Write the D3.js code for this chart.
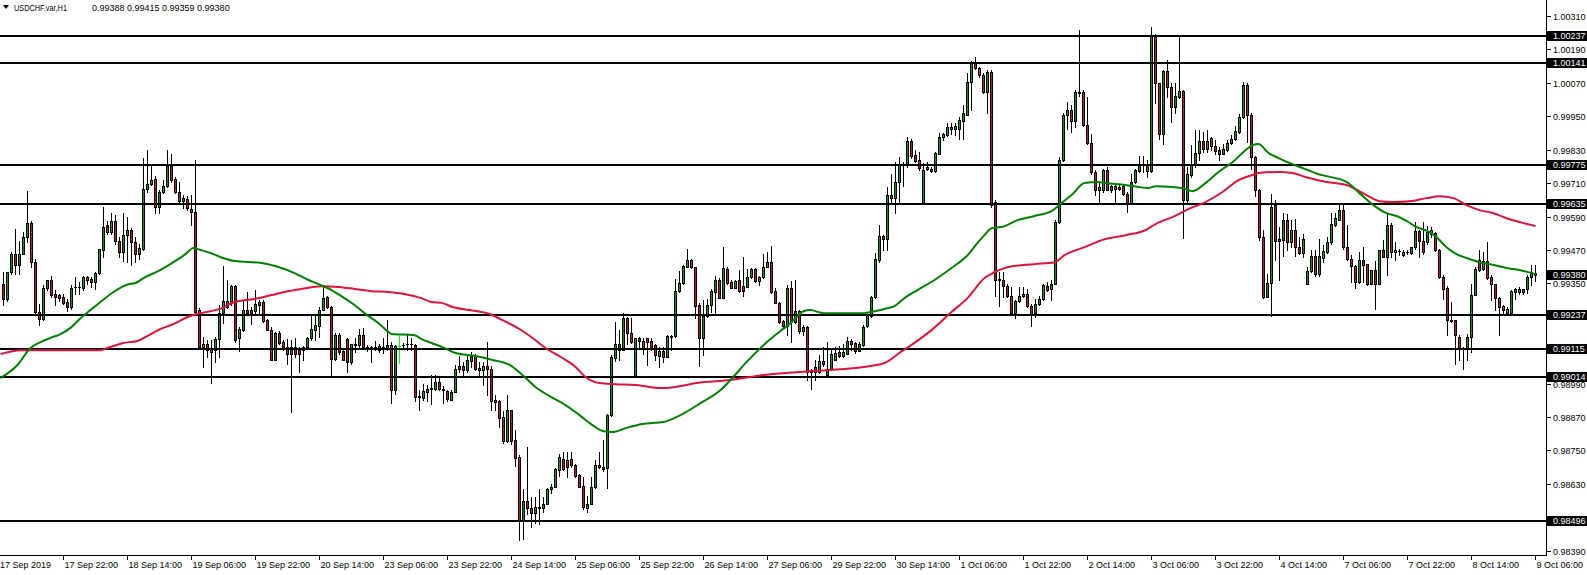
<!DOCTYPE html>
<html><head><meta charset="utf-8">
<script src="https://cdn.jsdelivr.net/npm/d3@7"></script>
<style>
html,body{margin:0;padding:0;background:#fff;overflow:hidden}
svg{display:block}
text{font-family:'Liberation Sans',Arial,sans-serif;font-size:9px}
</style>
</head><body>
<svg id="chart" width="1587" height="575"></svg>
<script>
const symbol = "USDCHF.var,H1";
// hourly candles [open, high, low, close], bar 0 = 17 Sep 07:00
const ohlc = [
[0.99349,0.99391,0.99271,0.99295],[0.99295,0.99391,0.99287,0.99391],[0.99391,0.99463,0.99385,0.99455],[0.99455,0.99545,0.99385,0.99415],
[0.99415,0.99501,0.99385,0.99455],[0.99455,0.99535,0.99455,0.99515],[0.99515,0.99681,0.99499,0.99565],[0.99565,0.99575,0.99409,0.99425],
[0.99425,0.99439,0.99235,0.99247],[0.99247,0.99277,0.99201,0.99223],[0.99223,0.99343,0.99219,0.99335],[0.99335,0.99363,0.99327,0.99361],
[0.99361,0.99377,0.99301,0.99309],[0.99313,0.99325,0.99271,0.99301],[0.99307,0.99313,0.99287,0.99297],[0.99301,0.99313,0.99277,0.99279],
[0.99282,0.99295,0.99251,0.99265],[0.99265,0.99343,0.99259,0.99335],[0.99337,0.99373,0.99311,0.99338],[0.99337,0.99355,0.99313,0.99338],
[0.99335,0.99377,0.99327,0.99373],[0.99373,0.99377,0.99347,0.99363],[0.99365,0.99373,0.99337,0.99355],[0.99355,0.99391,0.99331,0.99387],
[0.99387,0.99475,0.99385,0.99473],[0.99469,0.99625,0.99445,0.99553],[0.99559,0.99575,0.99529,0.99535],[0.99535,0.99601,0.99529,0.99575],
[0.99575,0.99595,0.99493,0.99501],[0.99501,0.99517,0.99445,0.99463],[0.99463,0.99601,0.99431,0.99522],[0.99522,0.99589,0.99427,0.99541],
[0.99541,0.99547,0.99415,0.99500],[0.99498,0.99517,0.99427,0.99457],[0.99455,0.99493,0.99439,0.99477],[0.99475,0.99799,0.99469,0.99687],
[0.99687,0.99829,0.99679,0.99707],[0.99707,0.99775,0.99703,0.99721],[0.99723,0.99737,0.99601,0.99623],[0.99623,0.99685,0.99601,0.99678],
[0.99678,0.99721,0.99673,0.99699],[0.99699,0.99829,0.99697,0.99773],[0.99773,0.99815,0.99715,0.99721],[0.99723,0.99733,0.99673,0.99679],
[0.99679,0.99715,0.99639,0.99644],[0.99644,0.99667,0.99619,0.99655],[0.99653,0.99663,0.99613,0.99619],[0.99617,0.99667,0.99559,0.99605],
[0.99605,0.99793,0.99241,0.99247],[0.99253,0.99261,0.99115,0.99121],[0.99121,0.99157,0.99049,0.99133],[0.99133,0.99145,0.99085,0.99109],
[0.99115,0.99145,0.98991,0.99103],[0.99109,0.99157,0.99067,0.99151],[0.99151,0.99271,0.99085,0.99243],[0.99244,0.99412,0.99208,0.99286],
[0.99286,0.99362,0.99260,0.99266],[0.99278,0.99344,0.99272,0.99342],[0.99342,0.99344,0.99140,0.99146],[0.99152,0.99194,0.99108,0.99186],
[0.99181,0.99292,0.99178,0.99256],[0.99256,0.99320,0.99242,0.99244],[0.99254,0.99266,0.99204,0.99244],[0.99252,0.99326,0.99242,0.99276],
[0.99274,0.99290,0.99238,0.99284],[0.99282,0.99290,0.99212,0.99216],[0.99218,0.99222,0.99182,0.99184],[0.99184,0.99194,0.99074,0.99076],
[0.99076,0.99176,0.99074,0.99170],[0.99170,0.99178,0.99134,0.99136],[0.99139,0.99146,0.99110,0.99115],[0.99121,0.99150,0.99062,0.99098],
[0.99098,0.99146,0.98888,0.99122],[0.99122,0.99154,0.99086,0.99098],[0.99110,0.99122,0.99032,0.99098],[0.99110,0.99124,0.99074,0.99122],
[0.99122,0.99156,0.99116,0.99152],[0.99152,0.99232,0.99146,0.99186],[0.99181,0.99236,0.99146,0.99200],[0.99196,0.99266,0.99158,0.99256],
[0.99256,0.99338,0.99254,0.99298],[0.99302,0.99304,0.99260,0.99264],[0.99264,0.99268,0.99016,0.99080],[0.99080,0.99170,0.99076,0.99166],
[0.99164,0.99170,0.99098,0.99104],[0.99106,0.99110,0.99074,0.99074],[0.99150,0.99152,0.99032,0.99068],[0.99068,0.99134,0.99060,0.99132],
[0.99132,0.99152,0.99104,0.99128],[0.99130,0.99186,0.99122,0.99164],[0.99164,0.99190,0.99120,0.99122],[0.99122,0.99128,0.99108,0.99121],
[0.99122,0.99124,0.99068,0.99121],[0.99122,0.99144,0.99110,0.99123],[0.99124,0.99134,0.99104,0.99112],[0.99120,0.99152,0.99100,0.99121],
[0.99116,0.99218,0.99110,0.99130],[0.99130,0.99140,0.98920,0.98966],[0.98966,0.99128,0.98954,0.99126],[0.99124,0.99160,0.99064,0.99124],
[0.99129,0.99136,0.99122,0.99130],[0.99133,0.99164,0.99110,0.99132],[0.99133,0.99152,0.99110,0.99132],[0.99130,0.99134,0.98928,0.98942],
[0.98942,0.98966,0.98896,0.98946],[0.98938,0.98990,0.98930,0.98962],[0.98960,0.98984,0.98926,0.98970],[0.98972,0.99022,0.98918,0.98974],
[0.98972,0.99020,0.98968,0.98994],[0.98994,0.99014,0.98966,0.98970],[0.98968,0.98980,0.98920,0.98971],[0.98965,0.98968,0.98928,0.98936],
[0.98932,0.98966,0.98930,0.98961],[0.98961,0.99056,0.98959,0.99044],[0.99044,0.99088,0.99032,0.99052],[0.99052,0.99068,0.99016,0.99038],
[0.99038,0.99088,0.99032,0.99074],[0.99072,0.99103,0.99048,0.99088],[0.99088,0.99096,0.99040,0.99044],[0.99046,0.99068,0.99014,0.99040],
[0.99040,0.99068,0.98984,0.99052],[0.99052,0.99139,0.98948,0.99044],[0.99042,0.99052,0.98894,0.98928],[0.98930,0.98948,0.98894,0.98924],
[0.98926,0.98930,0.98834,0.98868],[0.98870,0.98892,0.98776,0.98784],[0.98784,0.98948,0.98780,0.98894],[0.98894,0.98894,0.98774,0.98784],
[0.98786,0.98824,0.98694,0.98722],[0.98726,0.98732,0.98428,0.98496],[0.98496,0.98612,0.98432,0.98570],[0.98570,0.98762,0.98522,0.98542],
[0.98542,0.98582,0.98474,0.98524],[0.98524,0.98584,0.98488,0.98546],[0.98544,0.98612,0.98486,0.98546],[0.98542,0.98584,0.98528,0.98558],
[0.98558,0.98616,0.98556,0.98612],[0.98612,0.98630,0.98598,0.98620],[0.98620,0.98688,0.98618,0.98683],[0.98680,0.98738,0.98660,0.98728],
[0.98720,0.98744,0.98678,0.98684],[0.98716,0.98744,0.98656,0.98690],[0.98720,0.98744,0.98690,0.98698],[0.98698,0.98702,0.98654,0.98658],
[0.98662,0.98666,0.98618,0.98620],[0.98624,0.98656,0.98540,0.98546],[0.98544,0.98588,0.98530,0.98558],[0.98558,0.98656,0.98556,0.98620],
[0.98618,0.98716,0.98616,0.98698],[0.98698,0.98746,0.98688,0.98690],[0.98692,0.98786,0.98676,0.98684],[0.98686,0.98880,0.98614,0.98876],
[0.98876,0.99091,0.98872,0.99086],[0.99082,0.99212,0.99072,0.99134],[0.99134,0.99184,0.99074,0.99112],[0.99112,0.99242,0.99110,0.99224],
[0.99224,0.99228,0.99134,0.99170],[0.99170,0.99224,0.99136,0.99140],[0.99022,0.99152,0.99020,0.99152],[0.99144,0.99158,0.99116,0.99152],
[0.99142,0.99152,0.99098,0.99116],[0.99152,0.99152,0.99056,0.99140],[0.99142,0.99152,0.99110,0.99116],[0.99128,0.99134,0.99074,0.99092],
[0.99088,0.99122,0.99050,0.99108],[0.99108,0.99122,0.99068,0.99086],[0.99086,0.99164,0.99084,0.99160],[0.99160,0.99164,0.99110,0.99158],
[0.99160,0.99364,0.99158,0.99322],[0.99322,0.99394,0.99320,0.99352],[0.99350,0.99416,0.99348,0.99412],[0.99410,0.99472,0.99408,0.99434],
[0.99434,0.99436,0.99404,0.99408],[0.99408,0.99410,0.99224,0.99270],[0.99272,0.99278,0.99054,0.99152],[0.99152,0.99292,0.99092,0.99234],
[0.99234,0.99294,0.99230,0.99272],[0.99272,0.99328,0.99248,0.99324],[0.99320,0.99376,0.99244,0.99362],[0.99362,0.99368,0.99296,0.99298],
[0.99298,0.99482,0.99296,0.99404],[0.99400,0.99410,0.99348,0.99350],[0.99356,0.99362,0.99332,0.99334],[0.99334,0.99362,0.99332,0.99360],
[0.99362,0.99398,0.99320,0.99324],[0.99340,0.99444,0.99304,0.99324],[0.99338,0.99400,0.99336,0.99372],[0.99372,0.99404,0.99368,0.99400],
[0.99400,0.99404,0.99356,0.99360],[0.99372,0.99376,0.99344,0.99360],[0.99372,0.99454,0.99368,0.99410],[0.99410,0.99464,0.99408,0.99428],
[0.99426,0.99484,0.99316,0.99320],[0.99322,0.99332,0.99278,0.99280],[0.99280,0.99284,0.99208,0.99212],[0.99214,0.99220,0.99194,0.99198],
[0.99198,0.99344,0.99164,0.99332],[0.99332,0.99360,0.99140,0.99212],[0.99212,0.99362,0.99208,0.99250],[0.99250,0.99254,0.99170,0.99180],
[0.99180,0.99200,0.99164,0.99192],[0.99192,0.99196,0.99002,0.99032],[0.99032,0.99044,0.98972,0.99038],[0.99050,0.99074,0.99002,0.99032],
[0.99032,0.99092,0.99028,0.99070],[0.99070,0.99122,0.99052,0.99060],[0.99020,0.99138,0.99014,0.99044],[0.99044,0.99116,0.99040,0.99098],
[0.99076,0.99122,0.99074,0.99100],[0.99102,0.99124,0.99084,0.99090],[0.99090,0.99132,0.99086,0.99102],[0.99098,0.99158,0.99096,0.99144],
[0.99144,0.99150,0.99110,0.99134],[0.99136,0.99140,0.99100,0.99108],[0.99108,0.99140,0.99106,0.99132],[0.99128,0.99200,0.99124,0.99192],
[0.99196,0.99240,0.99194,0.99236],[0.99234,0.99304,0.99230,0.99300],[0.99300,0.99458,0.99296,0.99436],[0.99434,0.99560,0.99428,0.99520],
[0.99520,0.99524,0.99470,0.99508],[0.99510,0.99696,0.99470,0.99666],[0.99666,0.99744,0.99642,0.99656],[0.99656,0.99786,0.99602,0.99714],
[0.99714,0.99804,0.99636,0.99774],[0.99774,0.99786,0.99700,0.99780],[0.99774,0.99874,0.99768,0.99860],[0.99860,0.99869,0.99800,0.99806],
[0.99810,0.99828,0.99786,0.99790],[0.99792,0.99822,0.99758,0.99764],[0.99636,0.99782,0.99634,0.99758],[0.99768,0.99786,0.99756,0.99762],
[0.99762,0.99768,0.99750,0.99754],[0.99754,0.99822,0.99750,0.99818],[0.99816,0.99890,0.99814,0.99876],[0.99874,0.99890,0.99864,0.99886],
[0.99882,0.99924,0.99880,0.99912],[0.99906,0.99924,0.99888,0.99912],[0.99906,0.99924,0.99882,0.99914],[0.99906,0.99948,0.99870,0.99936],
[0.99932,0.99990,0.99870,0.99960],[0.99956,1.00104,0.99954,1.00074],[1.00074,1.00150,0.99974,1.00140],[1.00140,1.00162,1.00118,1.00122],
[1.00122,1.00128,1.00092,1.00098],[1.00098,1.00104,1.00032,1.00038],[1.00038,1.00116,0.99962,1.00110],[1.00110,1.00116,0.99624,0.99630],
[0.99642,0.99648,0.99306,0.99362],[0.99366,0.99390,0.99270,0.99362],[0.99362,0.99390,0.99300,0.99340],[0.99342,0.99348,0.99302,0.99306],
[0.99306,0.99336,0.99240,0.99242],[0.99242,0.99290,0.99224,0.99288],[0.99288,0.99336,0.99282,0.99306],[0.99306,0.99336,0.99302,0.99312],
[0.99312,0.99330,0.99266,0.99270],[0.99270,0.99276,0.99198,0.99240],[0.99242,0.99294,0.99228,0.99276],[0.99276,0.99306,0.99274,0.99294],
[0.99294,0.99348,0.99290,0.99344],[0.99342,0.99354,0.99324,0.99326],[0.99329,0.99362,0.99290,0.99348],[0.99348,0.99576,0.99346,0.99570],
[0.99570,0.99804,0.99568,0.99792],[0.99792,0.99960,0.99790,0.99956],[0.99954,1.00002,0.99906,0.99972],[0.99972,0.99990,0.99894,0.99932],
[0.99932,1.00044,0.99912,1.00038],[1.00038,1.00260,1.00024,1.00034],[1.00036,1.00044,0.99914,0.99918],[0.99918,1.00018,0.99852,0.99854],
[0.99854,0.99888,0.99744,0.99750],[0.99750,0.99756,0.99666,0.99684],[0.99684,0.99714,0.99636,0.99696],[0.99684,0.99762,0.99678,0.99758],
[0.99758,0.99768,0.99684,0.99686],[0.99686,0.99702,0.99678,0.99698],[0.99698,0.99702,0.99638,0.99689],[0.99689,0.99702,0.99684,0.99696],
[0.99700,0.99708,0.99666,0.99670],[0.99670,0.99678,0.99606,0.99636],[0.99636,0.99744,0.99634,0.99714],[0.99714,0.99762,0.99712,0.99756],
[0.99754,0.99808,0.99750,0.99780],[0.99778,0.99808,0.99750,0.99780],[0.99778,0.99792,0.99732,0.99754],[0.99754,1.00272,0.99750,1.00238],
[1.00238,1.00246,0.99998,1.00068],[1.00068,1.00070,0.99870,0.99888],[0.99888,1.00116,0.99852,1.00112],[1.00112,1.00152,1.00018,1.00054],
[1.00056,1.00068,0.99930,0.99982],[0.99982,1.00068,0.99962,1.00022],[1.00020,1.00238,1.00014,1.00040],[1.00040,1.00044,0.99512,0.99648],
[0.99648,0.99768,0.99642,0.99742],[0.99738,0.99846,0.99732,0.99774],[0.99774,0.99900,0.99768,0.99818],[0.99818,0.99900,0.99792,0.99862],
[0.99862,0.99894,0.99822,0.99834],[0.99834,0.99900,0.99822,0.99862],[0.99872,0.99876,0.99828,0.99844],[0.99844,0.99864,0.99816,0.99826],
[0.99828,0.99840,0.99794,0.99816],[0.99816,0.99852,0.99814,0.99832],[0.99828,0.99864,0.99826,0.99854],[0.99854,0.99882,0.99852,0.99870],
[0.99868,0.99914,0.99864,0.99896],[0.99894,0.99958,0.99890,0.99946],[0.99946,1.00074,0.99942,1.00064],[1.00064,1.00070,0.99858,0.99956],
[0.99956,0.99960,0.99762,0.99802],[0.99804,0.99806,0.99662,0.99686],[0.99686,0.99690,0.99506,0.99516],[0.99518,0.99542,0.99298,0.99302],
[0.99302,0.99384,0.99300,0.99352],[0.99352,0.99672,0.99234,0.99624],[0.99632,0.99648,0.99434,0.99502],[0.99509,0.99552,0.99362,0.99502],
[0.99504,0.99602,0.99450,0.99576],[0.99576,0.99600,0.99468,0.99498],[0.99498,0.99576,0.99480,0.99540],[0.99542,0.99582,0.99450,0.99480],
[0.99482,0.99516,0.99456,0.99460],[0.99460,0.99528,0.99444,0.99510],[0.99348,0.99408,0.99346,0.99394],[0.99394,0.99468,0.99390,0.99450],
[0.99450,0.99468,0.99378,0.99384],[0.99384,0.99510,0.99378,0.99450],[0.99442,0.99486,0.99426,0.99466],[0.99463,0.99517,0.99459,0.99497],
[0.99497,0.99601,0.99493,0.99563],[0.99559,0.99601,0.99555,0.99583],[0.99579,0.99633,0.99577,0.99615],[0.99615,0.99633,0.99475,0.99479],
[0.99479,0.99559,0.99435,0.99439],[0.99439,0.99451,0.99355,0.99411],[0.99411,0.99415,0.99335,0.99355],[0.99355,0.99463,0.99351,0.99435],
[0.99435,0.99481,0.99355,0.99417],[0.99419,0.99421,0.99343,0.99347],[0.99349,0.99399,0.99347,0.99397],[0.99397,0.99429,0.99259,0.99349],
[0.99349,0.99471,0.99347,0.99469],[0.99469,0.99505,0.99443,0.99445],[0.99445,0.99601,0.99381,0.99561],[0.99561,0.99565,0.99443,0.99463],
[0.99469,0.99499,0.99435,0.99463],[0.99465,0.99475,0.99451,0.99467],[0.99451,0.99469,0.99447,0.99463],[0.99463,0.99469,0.99457,0.99464],
[0.99459,0.99481,0.99457,0.99479],[0.99479,0.99571,0.99475,0.99537],[0.99537,0.99541,0.99443,0.99501],[0.99501,0.99571,0.99455,0.99463],
[0.99499,0.99555,0.99493,0.99535],[0.99529,0.99553,0.99517,0.99541],[0.99531,0.99535,0.99467,0.99469],[0.99471,0.99475,0.99371,0.99373],
[0.99373,0.99379,0.99295,0.99331],[0.99333,0.99339,0.99163,0.99217],[0.99217,0.99283,0.99211,0.99215],[0.99217,0.99219,0.99061,0.99163],
[0.99159,0.99163,0.99073,0.99115],[0.99117,0.99123,0.99043,0.99115],[0.99115,0.99167,0.99073,0.99159],[0.99159,0.99349,0.99103,0.99307],
[0.99307,0.99407,0.99307,0.99403],[0.99433,0.99469,0.99395,0.99397],[0.99403,0.99463,0.99397,0.99429],[0.99431,0.99499,0.99367,0.99371],
[0.99373,0.99379,0.99291,0.99347],[0.99347,0.99349,0.99253,0.99299],[0.99299,0.99301,0.99163,0.99265],[0.99267,0.99271,0.99243,0.99255],
[0.99243,0.99265,0.99241,0.99259],[0.99243,0.99325,0.99241,0.99321],[0.99319,0.99335,0.99295,0.99329],[0.99319,0.99337,0.99313,0.99329],
[0.99319,0.99331,0.99313,0.99329],[0.99329,0.99379,0.99315,0.99373],[0.99373,0.99415,0.99343,0.99391],[0.99388,0.99415,0.99359,0.99380]
];
// green moving average [bar, price]
const maGreen = [
[-0.75,0.99010],[3.5,0.99057],[6.75,0.99118],[9.25,0.99139],[11.75,0.99154],[14.25,0.99168],[16.75,0.99190],[19.25,0.99225],
[21.75,0.99254],[24.25,0.99283],[27.5,0.99319],[31.25,0.99347],[33,0.99351],[35,0.99369],[39.25,0.99398],[42.5,0.99426],
[45.5,0.99455],[47.5,0.99477],[49.25,0.99470],[51.75,0.99459],[54.5,0.99443],[57.75,0.99430],[64.5,0.99423],[69.5,0.99405],
[72.75,0.99387],[76.25,0.99362],[78.75,0.99347],[82,0.99326],[85.25,0.99297],[87.75,0.99272],[90.25,0.99243],[93.75,0.99207],
[96.25,0.99175],[97,0.99168],[102.75,0.99164],[104.5,0.99150],[107,0.99136],[109.75,0.99121],[113,0.99100],[118,0.99089],
[122.25,0.99075],[126.5,0.99057],[129.75,0.99021],[133,0.98978],[136.5,0.98945],[140.5,0.98913],[144,0.98877],[147.25,0.98841],
[149.75,0.98820],[152.25,0.98816],[155.5,0.98830],[159.75,0.98845],[165,0.98852],[169.25,0.98877],[174.25,0.98920],[179.5,0.98970],
[181.75,0.99003],[185.75,0.99067],[190,0.99128],[194.25,0.99179],[196.75,0.99207],[198.25,0.99229],[200,0.99250],[201.75,0.99254],
[205,0.99243],[215,0.99243],[216.75,0.99247],[220.25,0.99258],[222.75,0.99268],[225.25,0.99297],[228.5,0.99326],[232.75,0.99362],
[237,0.99405],[241,0.99451],[243.5,0.99495],[245.25,0.99523],[247,0.99548],[249.5,0.99552],[253.5,0.99577],[257.75,0.99592],
[262,0.99609],[264.5,0.99638],[267,0.99667],[270.25,0.99710],[273.5,0.99714],[275.5,0.99710],[280.5,0.99703],[283.75,0.99696],
[286.25,0.99692],[288,0.99699],[292.25,0.99696],[294.75,0.99692],[297.25,0.99681],[300.5,0.99710],[303.75,0.99750],[307.25,0.99785],
[310.5,0.99828],[312.25,0.99846],[313.75,0.99850],[316.25,0.99818],[318.75,0.99800],[322.25,0.99778],[325.5,0.99760],[328.75,0.99742],
[330.75,0.99735],[335.75,0.99714],[339,0.99674],[342.5,0.99631],[345.75,0.99602],[348.25,0.99592],[350.75,0.99574],[353.25,0.99552],
[356.5,0.99534],[358.25,0.99516],[360.75,0.99480],[363.25,0.99455],[365.75,0.99441],[369,0.99426],[372.5,0.99416],[375.75,0.99405],
[379,0.99398],[383,0.99383]
];
// red moving average [bar, price]
const maRed = [
[-0.75,0.99096],[4.25,0.99110],[24.25,0.99110],[26,0.99118],[30,0.99136],[33.5,0.99143],[36,0.99161],[39.25,0.99186],
[42.5,0.99204],[46,0.99229],[49.25,0.99243],[54.5,0.99260],[57.75,0.99283],[62.75,0.99294],[67,0.99308],[70.25,0.99319],
[74.5,0.99330],[79.5,0.99340],[83.75,0.99337],[87.75,0.99330],[92,0.99322],[96.25,0.99319],[100.25,0.99312],[104.5,0.99297],
[107,0.99283],[109.75,0.99279],[112.25,0.99265],[116.5,0.99254],[121.5,0.99240],[124.75,0.99218],[129,0.99186],[132.25,0.99154],
[135.5,0.99118],[139.75,0.99082],[143,0.99050],[145.5,0.99014],[149,0.98992],[153,0.98988],[158,0.98985],[161.5,0.98978],
[165,0.98974],[169.25,0.98981],[173.25,0.98992],[181.75,0.99003],[190,0.99021],[198.25,0.99031],[202.5,0.99035],[206.75,0.99039],
[215,0.99050],[220.25,0.99064],[224.25,0.99103],[228,0.99139],[232,0.99182],[237,0.99247],[241,0.99297],[245.25,0.99369],
[247.75,0.99390],[251,0.99408],[257.75,0.99419],[262.75,0.99426],[265.25,0.99451],[270.25,0.99480],[275.5,0.99509],[280.5,0.99523],
[285.5,0.99541],[288,0.99563],[292.25,0.99588],[296.25,0.99617],[300.5,0.99642],[304.75,0.99678],[308.75,0.99721],[312.25,0.99739],
[313.75,0.99746],[318.75,0.99750],[322.25,0.99746],[325.5,0.99732],[330.75,0.99714],[335.75,0.99703],[340.75,0.99667],[344,0.99645],
[347.5,0.99642],[351.5,0.99645],[355.75,0.99656],[359,0.99663],[362.5,0.99656],[365.75,0.99631],[369,0.99613],[372.5,0.99602],
[375.75,0.99584],[379,0.99570],[383,0.99556]
];
const levels = [1.00237, 1.00141, 0.99775, 0.99635, 0.99237, 0.99115, 0.99014, 0.98496];
const priceTicks = [0.98390,0.98510,0.98630,0.98750,0.98870,0.98990,0.99110,0.99230,0.99350,0.99470,0.99590,0.99710,0.99830,0.99950,1.00070,1.00190,1.00310];
const firstDateLabel = "17 Sep 2019";
const dateLabels = ["17 Sep 22:00","18 Sep 14:00","19 Sep 06:00","19 Sep 22:00","20 Sep 14:00","23 Sep 06:00","23 Sep 22:00","24 Sep 14:00",
"25 Sep 06:00","25 Sep 22:00","26 Sep 14:00","27 Sep 06:00","29 Sep 22:00","30 Sep 14:00","1 Oct 06:00","1 Oct 22:00",
"2 Oct 14:00","3 Oct 06:00","3 Oct 22:00","4 Oct 14:00","7 Oct 06:00","7 Oct 22:00","8 Oct 14:00","9 Oct 06:00"];
const dateBars = [15,31,47,63,79,95,111,127,143,159,175,191,207,223,239,255,271,287,303,319,335,351,367,383];

// ---- layout ----
const W = 1587, H = 575, plotR = 1546, plotB = 555;
const colUp = "#1e8c1e", colDn = "#b22222", colMaG = "#008000", colMaR = "#dc143c";
const svg = d3.select("#chart");
const x = d3.scaleLinear().domain([0, ohlc.length - 1]).range([3, 3 + 4 * (ohlc.length - 1)]);
const y = d3.scaleLinear().domain([0.98390, 1.00310]).range([550.7, 16]);
const fmt = d3.format(".5f");

svg.append("defs").append("clipPath").attr("id", "plot")
  .append("rect").attr("x", 0).attr("y", 0).attr("width", plotR).attr("height", plotB);
const g = svg.append("g").attr("clip-path", "url(#plot)").attr("shape-rendering", "crispEdges");

// candles
const cg = g.selectAll("g.c").data(ohlc).join("g").attr("class", "c");
cg.each(function(d, i) {
  const s = d3.select(this);
  const px = Math.round(x(i));
  const [o, h, l, c] = d;
  const yh = Math.round(y(h)), yl = Math.round(y(l));
  const doji = o === c;
  s.append("rect").attr("x", px).attr("y", yh).attr("width", 1).attr("height", Math.max(1, yl - yh + 1))
    .attr("fill", doji ? "#00ff00" : "#000");
  const yt = Math.round(y(Math.max(o, c))), yb = Math.round(y(Math.min(o, c)));
  if (doji) {
    s.append("rect").attr("x", px - 1).attr("y", yt).attr("width", 3).attr("height", 1).attr("fill", "#00ff00");
    return;
  }
  const bh = Math.max(1, yb - yt + 1);
  s.append("rect").attr("x", px - 1).attr("y", yt).attr("width", 3).attr("height", bh).attr("fill", "#000");
  if (bh > 2) {
    s.append("rect").attr("x", px).attr("y", yt + 1).attr("width", 1).attr("height", bh - 2)
      .attr("fill", c > o ? colUp : colDn);
  }
});

// moving averages
const line = d3.line().x(d => x(d[0]) + 0.5).y(d => y(d[1])).curve(d3.curveMonotoneX);
const mg = svg.append("g").attr("clip-path", "url(#plot)");
mg.append("path").datum(maRed).attr("d", line).attr("fill", "none").attr("stroke", colMaR).attr("stroke-width", 2);
mg.append("path").datum(maGreen).attr("d", line).attr("fill", "none").attr("stroke", colMaG).attr("stroke-width", 2);

// horizontal levels
g.selectAll("rect.lvl").data(levels).join("rect").attr("class", "lvl")
  .attr("x", 0).attr("width", plotR).attr("y", d => Math.round(y(d)) - 1).attr("height", 2).attr("fill", "#000");

// axes frame
const ax = svg.append("g").attr("shape-rendering", "crispEdges");
ax.append("line").attr("x1", plotR + 0.5).attr("x2", plotR + 0.5).attr("y1", 0).attr("y2", plotB + 1).attr("stroke", "#000");
ax.append("line").attr("x1", 0).attr("x2", plotR + 1).attr("y1", plotB + 0.5).attr("y2", plotB + 0.5).attr("stroke", "#000");

// level boxes + current price
const last = ohlc[ohlc.length - 1];
const boxes = levels.concat([last[3]]);

// price scale (labels hidden behind a level box are not drawn)
const visibleTicks = priceTicks.filter(t => boxes.every(b => Math.abs(y(t) - y(b)) > 5));
const pt = ax.selectAll("g.pt").data(visibleTicks).join("g").attr("class", "pt")
  .attr("transform", d => `translate(0,${Math.round(y(d)) + 0.5})`);
pt.append("line").attr("x1", plotR + 1).attr("x2", plotR + 5).attr("stroke", "#000");
pt.append("text").attr("x", plotR + 7).attr("dy", "0.35em").attr("fill", "#000").text(d => fmt(d));

const bx = ax.selectAll("g.bx").data(boxes).join("g").attr("class", "bx")
  .attr("transform", d => `translate(0,${Math.round(y(d))})`);
bx.append("rect").attr("x", plotR + 1).attr("y", -5).attr("width", W - plotR - 1).attr("height", 10).attr("fill", "#000");
bx.append("text").attr("x", plotR + 7).attr("dy", "0.35em").attr("fill", "#fff").text(d => fmt(d));

// date scale
ax.append("text").attr("x", 0).attr("y", 568).text(firstDateLabel);
const dt = ax.selectAll("g.dt").data(dateLabels).join("g").attr("class", "dt")
  .attr("transform", (d, k) => `translate(${Math.round(x(dateBars[k])) + 0.5},0)`);
dt.append("line").attr("y1", plotB + 1).attr("y2", plotB + 5).attr("stroke", "#000");
dt.append("text").attr("x", 1).attr("y", 568).text(d => d);

// title
svg.append("path").attr("d", "M3,5 L9,5 L6,9 Z").attr("fill", "#000");
svg.append("text").attr("x", 14).attr("y", 11).attr("textLength", 53).attr("lengthAdjust", "spacingAndGlyphs").text(symbol);
svg.append("text").attr("x", 92).attr("y", 11).text(last.map(fmt).join(" "));
</script>
</body></html>
